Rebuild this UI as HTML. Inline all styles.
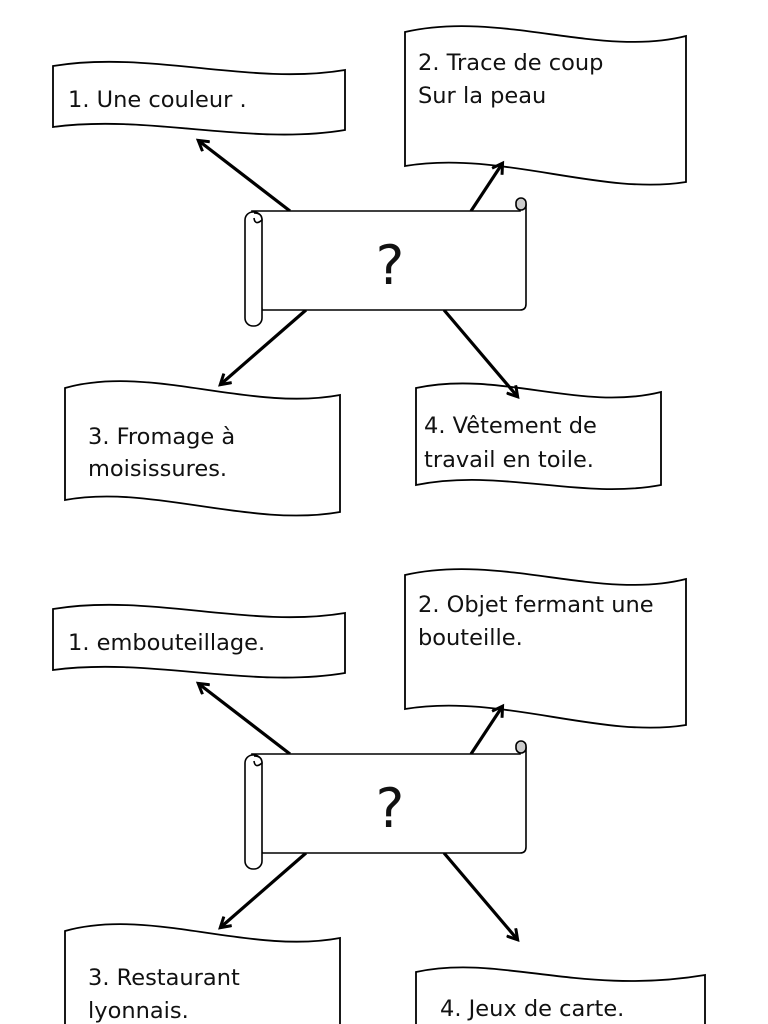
<!DOCTYPE html>
<html><head><meta charset="utf-8"><style>
html,body{margin:0;padding:0;background:#fff;width:768px;height:1024px;overflow:hidden}
svg text{font-family:"DejaVu Sans","Liberation Sans",sans-serif;font-size:22.5px;fill:#111}
</style></head><body>
<svg width="768" height="1024" viewBox="0 0 768 1024" xmlns="http://www.w3.org/2000/svg">
<defs>
<marker id="a" markerWidth="14" markerHeight="14" refX="10" refY="7" orient="auto" markerUnits="userSpaceOnUse" viewBox="0 0 14 14">
<path d="M1,1 L11,7 L1,13" fill="none" stroke="#000" stroke-width="3"/>
</marker>
<g id="half">
<g fill="#fff" stroke="#000" stroke-width="1.8">
<path d="M53,66 C150,50 250,86 345,70 L345,130 C250,146 150,114 53,127 Z"/>
<path d="M405,32 C500,10 600,58 686,36 L686,182 C600,196 500,150 405,166 Z"/>
<path d="M65,388 C150,364 250,412 340,395 L340,512 C250,528 150,484 65,500 Z"/>
</g>
<g stroke="#000" stroke-width="3.2" fill="none" marker-end="url(#a)">
<line x1="290" y1="211" x2="199" y2="141"/>
<line x1="471" y1="211" x2="502" y2="164"/>
<line x1="306" y1="310" x2="221" y2="384"/>
<line x1="444" y1="310" x2="517" y2="396"/>
</g>
<g fill="#fff" stroke="#000" stroke-width="1.6">
<path d="M252,211 L520,211 L520,205 Q520,200 526,204 L526,304 Q526,310 520,310 L262,310 Z"/>
<rect x="516" y="198" width="10" height="12" rx="5" fill="#ccc"/>
<rect x="245" y="212" width="17" height="114" rx="8"/>
<path d="M254,213 Q262,213 262,220 Q255,226 254,218"/>
</g>
<text x="390" y="284" text-anchor="middle" style="font-size:54px">?</text>
</g>
</defs>
<path d="M416,388 C500,370 580,412 661,392 L661,485 C580,500 500,468 416,485 Z" fill="#fff" stroke="#000" stroke-width="1.8"/>
<path d="M416,972 C500,954 580,996 705,975 L705,1030 L416,1030 Z" fill="#fff" stroke="#000" stroke-width="1.8"/>
<use href="#half"/>
<use href="#half" y="543"/>
<text x="68" y="107">1. Une couleur .</text>
<text x="418" y="70">2. Trace de coup</text>
<text x="418" y="103">Sur la peau</text>
<text x="88" y="444">3. Fromage à</text>
<text x="88" y="476">moisissures.</text>
<text x="424" y="433">4. Vêtement de</text>
<text x="424" y="467">travail en toile.</text>
<text x="68" y="650">1. embouteillage.</text>
<text x="418" y="612">2. Objet fermant une</text>
<text x="418" y="645">bouteille.</text>
<text x="88" y="985">3. Restaurant</text>
<text x="88" y="1018">lyonnais.</text>
<text x="440" y="1016">4. Jeux de carte.</text>
</svg>
</body></html>
